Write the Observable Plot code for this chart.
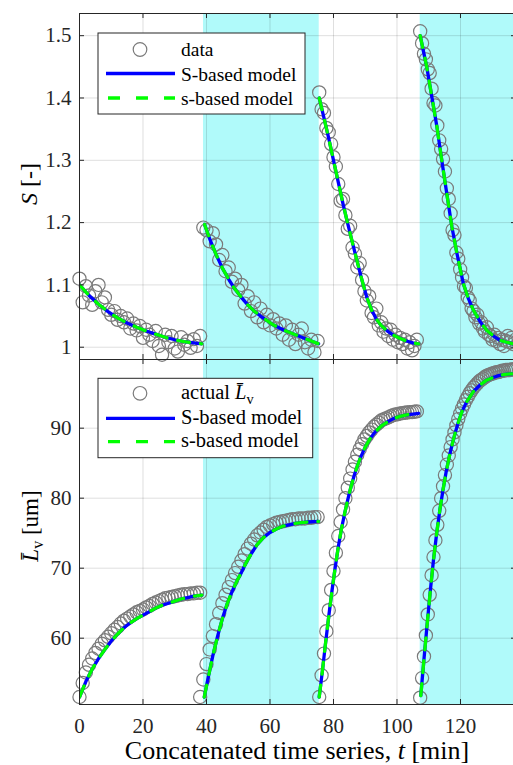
<!DOCTYPE html>
<html><head><meta charset="utf-8">
<script src="https://cdn.jsdelivr.net/npm/d3@7"></script>
<script src="https://cdn.jsdelivr.net/npm/@observablehq/plot@0.6"></script>
<style>
html,body{margin:0;padding:0;background:#fff;overflow:hidden}
#wrap{position:relative;width:513px;height:765px;overflow:hidden;background:#fff}
#wrap svg{position:absolute;left:0}
</style></head><body><div id="wrap"></div>
<script>
// ---------- axis ticks ----------
const xTicks = [0, 20, 40, 60, 80, 100, 120];
const xTickLabels = ["0", "20", "40", "60", "80", "100", "120"];
const sTicks = [1, 1.1, 1.2, 1.3, 1.4, 1.5];
const sTickLabels = ["1", "1.1", "1.2", "1.3", "1.4", "1.5"];
const lTicks = [60, 70, 80, 90];
const lTickLabels = ["60", "70", "80", "90"];

// ---------- shaded (cyan) time windows ----------
const shadeStart = [39.05, 107.3];
const shadeEnd = [75.5, 140];

// ---------- sampling grid of the measured series (start, step per segment) ----------
const sStart = [0, 39, 75.5, 107.3];
const lStart = [0, 38, 75.5, 107.3];
const sampleStep = [1, 1, 0.75, 0.6];

// ---------- measured supersaturation S ----------
const sData1 = [1.110,1.072,1.098,1.083,1.068,1.090,1.100,1.072,1.080,1.060,1.052,1.058,1.044,1.050,1.040,1.046,1.030,1.038,1.027,1.034,1.015,1.028,1.020,1.010,1.026,1.002,0.988,1.020,1.008,1.018,0.998,0.993,1.016,1.004,1.010,0.999,1.013,1.002,1.018];
const sData2 = [1.192,1.188,1.170,1.183,1.165,1.140,1.148,1.122,1.128,1.105,1.110,1.092,1.100,1.070,1.082,1.058,1.072,1.048,1.062,1.040,1.052,1.035,1.045,1.030,1.038,1.020,1.035,1.012,1.028,1.005,1.020,1.030,1.008,0.998,1.012,0.992,1.010];
const sData3 = [1.409,1.382,1.376,1.352,1.345,1.326,1.305,1.290,1.262,1.235,1.238,1.212,1.190,1.195,1.160,1.150,1.128,1.135,1.108,1.090,1.075,1.082,1.055,1.048,1.062,1.035,1.040,1.025,1.030,1.018,1.028,1.012,1.020,1.008,1.015,1.005,1.012,0.998,1.008,0.995,1.002,1.012];
const sData4 = [1.507,1.488,1.471,1.462,1.446,1.440,1.415,1.392,1.388,1.356,1.332,1.318,1.302,1.282,1.255,1.238,1.215,1.188,1.180,1.152,1.142,1.125,1.112,1.098,1.095,1.080,1.075,1.062,1.058,1.048,1.052,1.038,1.040,1.030,1.025,1.032,1.020,1.018,1.012,1.020,1.010,1.015,1.005,1.012,1.002,1.010,1.018,1.008,1.015,1.005,1.012];

// ---------- model curves for S ----------
const sModelT1 = [0,3,6,9,12,15,18,21,24,27,30,33,36,38.5];
const sModel1  = [1.100,1.083,1.069,1.057,1.047,1.039,1.032,1.026,1.021,1.016,1.012,1.009,1.007,1.0055];
const sModelT2 = [39.4,41,43,45,47,49,51,53,55,57,59,61,63,65,67,69,71,73,75.3];
const sModel2  = [1.197,1.174,1.149,1.127,1.109,1.093,1.080,1.068,1.058,1.050,1.043,1.036,1.031,1.026,1.022,1.018,1.014,1.010,1.0055];
const sModelT3 = [75.5,77,78.5,80,81.5,83,84.5,86,87.5,89,90.5,92,93.5,95,97,99,101,103,105,106.8];
const sModel3  = [1.400,1.368,1.335,1.300,1.265,1.230,1.198,1.167,1.137,1.107,1.080,1.060,1.045,1.035,1.026,1.019,1.014,1.010,1.007,1.0055];
const sModelT4 = [107.3,109.4,111.0,112.6,114.1,115.7,117.3,118.9,120.9,122.5,124.1,126.2,128.3,130.4,132.5,134.5,136.6,138];
const sModel4  = [1.500,1.449,1.401,1.353,1.300,1.246,1.193,1.150,1.102,1.078,1.059,1.041,1.027,1.018,1.011,1.008,1.0055,1.005];

// ---------- measured mean length L_v ----------
const lData1 = [51.6,53.6,55.1,56.2,57.1,57.9,58.5,59.2,59.7,60.2,60.7,61.2,61.6,62.1,62.5,62.8,63.1,63.4,63.7,63.9,64.1,64.4,64.6,64.9,65.1,65.3,65.5,65.7,65.8,65.9,66.0,66.1,66.2,66.3,66.3,66.4,66.4,66.5,66.5];
const lData2 = [51.6,54.1,56.3,58.4,60.3,62.0,63.6,65.0,66.2,67.3,68.3,69.3,70.2,71.1,72.0,72.8,73.5,74.1,74.7,75.1,75.5,75.9,76.1,76.3,76.5,76.6,76.7,76.8,76.9,77.0,77.0,77.1,77.1,77.1,77.2,77.2,77.3,77.3];
const lData3 = [51.6,54.7,57.8,61.0,64.0,66.9,69.6,72.2,74.6,76.6,78.4,80.0,81.5,82.8,84.1,85.2,86.2,87.0,87.7,88.4,88.9,89.4,89.8,90.2,90.5,90.8,91.1,91.25,91.4,91.55,91.7,91.85,91.95,92.0,92.1,92.15,92.2,92.25,92.3,92.3,92.35,92.4];
const lData4 = [51.5,54.3,57.4,60.4,63.4,66.2,69.0,71.6,74.0,76.2,78.2,80.0,81.7,83.3,84.8,86.1,87.3,88.4,89.4,90.4,91.3,92.1,92.8,93.4,94.0,94.5,95.0,95.4,95.8,96.1,96.4,96.7,96.9,97.1,97.3,97.5,97.6,97.7,97.8,97.9,98.0,98.0,98.1,98.2,98.2,98.3,98.3,98.3,98.4,98.4,98.4];

// ---------- model curves for L_v ----------
const lModelT1 = [0,2,4,6,8,10,12,14,16,18,20,22,24,26,28,30,32,34,36,38.5];
const lModel1  = [51.6,53.8,55.6,57.1,58.4,59.6,60.6,61.5,62.2,62.8,63.3,63.8,64.3,64.7,65.0,65.3,65.6,65.8,66.0,66.15];
const lModelT2 = [39.3,40.5,42,43.5,45,46.5,48,49.5,51,52.5,54,56,58,60,62,64,66,68,70,72,75.3];
const lModel2  = [51.6,54.3,57.5,60.3,62.8,64.9,66.6,68.1,69.4,70.8,72.0,73.4,74.4,75.1,75.6,76.0,76.2,76.4,76.5,76.6,76.7];
const lModelT3 = [75.5,76.5,77.5,78.5,79.5,80.5,81.5,82.5,83.5,84.5,85.5,86.5,87.5,88.5,90,91.5,93,95,97,99,101,103,105,106.8];
const lModel3  = [51.6,55.3,59.3,63.1,66.7,70.0,73.0,75.6,77.8,79.8,81.6,83.2,84.6,85.8,87.3,88.5,89.4,90.3,90.9,91.4,91.7,91.9,92.0,92.1];
const lModelT4 = [107.5,108.5,109.5,110.5,111.5,112.5,113.5,114.5,115.5,116.5,117.5,118.5,119.5,120.5,122,124,126,128,130,132,134,136.6,138];
const lModel4  = [51.8,57.0,62.0,66.8,71.2,75.0,78.3,81.2,83.8,86.0,87.9,89.6,91.1,92.4,93.8,95.2,96.1,96.8,97.2,97.5,97.7,97.8,97.9];

// ---------- styling / layout ----------
const FONT = "'Liberation Serif','DejaVu Serif',serif";
const AX = "#262626", GRAY = "#7a7a7a", BLUE = "#0000ff", GREEN = "#00ff00", CYAN = "#b0fafa";
const W = 516, ML = 79, TICK = 5;
const X_DOMAIN = [0, 137.64];

function samples(starts, step, arrays) {
  return arrays.flatMap((vals, i) => vals.map((v, j) => ({t: +(starts[i] + j * step[i]).toFixed(3), v, seg: i})));
}
function curves(ts, vs) {
  return ts.flatMap((tt, i) => tt.map((t, j) => ({t, v: vs[i][j], seg: i})));
}

function panel({height, mTop, mBottom, yDomain, yTicks, yLabels, data, model, xLabels}) {
  const pxY = (height - mTop - mBottom) / (yDomain[1] - yDomain[0]);
  const pxX = (W - ML) / (X_DOMAIN[1] - X_DOMAIN[0]);
  const ty = TICK / pxY, tx = TICK / pxX;
  const shades = shadeStart.map((s, i) => ({a: s, b: shadeEnd[i]}));
  const yl = yTicks.map((d, i) => ({v: d, s: yLabels[i]}));
  const marks = [
    Plot.rect(shades, {x1: "a", x2: "b", fill: CYAN, clip: true}),
    Plot.ruleX(xTicks, {stroke: "#000", strokeOpacity: 0.13}),
    Plot.ruleY(yTicks, {stroke: "#000", strokeOpacity: 0.13}),
    Plot.dot(data, {x: "t", y: "v", r: 6.6, stroke: GRAY, strokeWidth: 1.2, fill: "none"}),
    Plot.line(model, {x: "t", y: "v", z: "seg", stroke: BLUE, strokeWidth: 3.3, clip: true}),
    Plot.line(model, {x: "t", y: "v", z: "seg", stroke: GREEN, strokeWidth: 3.3, strokeDasharray: "12,11", clip: true}),
    Plot.frame({stroke: AX, strokeWidth: 1}),
    Plot.ruleX(xTicks, {y1: yDomain[0], y2: yDomain[0] + ty, stroke: AX}),
    Plot.ruleX(xTicks, {y1: yDomain[1] - ty, y2: yDomain[1], stroke: AX}),
    Plot.ruleY(yTicks, {x1: X_DOMAIN[0], x2: X_DOMAIN[0] + tx, stroke: AX}),
    Plot.ruleY(yTicks, {x1: X_DOMAIN[1] - tx, x2: X_DOMAIN[1], stroke: AX}),
    Plot.text(yl, {y: "v", text: "s", frameAnchor: "left", textAnchor: "end", dx: -8, fontSize: 21, fill: AX, fontFamily: FONT})
  ];
  if (xLabels) {
    const xl = xTicks.map((d, i) => ({v: d, s: xLabels[i]}));
    marks.push(Plot.text(xl, {x: "v", text: "s", frameAnchor: "bottom", lineAnchor: "top", dy: 14, fontSize: 21, fill: AX, fontFamily: FONT}));
  }
  return Plot.plot({
    width: W, height, marginLeft: ML, marginRight: 0, marginTop: mTop, marginBottom: mBottom,
    x: {domain: X_DOMAIN, axis: null},
    y: {domain: yDomain, axis: null},
    style: {background: "transparent", overflow: "visible", maxWidth: "none", fontFamily: FONT},
    marks
  });
}

const sPoints = samples(sStart, sampleStep, [sData1, sData2, sData3, sData4]);
const sCurves = curves([sModelT1, sModelT2, sModelT3, sModelT4], [sModel1, sModel2, sModel3, sModel4]);
const lPoints = samples(lStart, sampleStep, [lData1, lData2, lData3, lData4]);
const lCurves = curves([lModelT1, lModelT2, lModelT3, lModelT4], [lModel1, lModel2, lModel3, lModel4]);

const bottomPlot = panel({height: 407, mTop: 1, mBottom: 61, yDomain: [50.53, 99.81], yTicks: lTicks, yLabels: lTickLabels, data: lPoints, model: lCurves, xLabels: xTickLabels});
const topPlot = panel({height: 360, mTop: 13, mBottom: 1, yDomain: [0.9803, 1.5356], yTicks: sTicks, yLabels: sTickLabels, data: sPoints, model: sCurves, xLabels: null});

const wrap = document.getElementById("wrap");
bottomPlot.style.top = "358px";
topPlot.style.top = "0px";
wrap.appendChild(bottomPlot);
wrap.appendChild(topPlot);

function legend(svg, box, rows, size) {
  const g = d3.select(svg).append("g").attr("fill", "#000");
  g.append("rect").attr("x", box[0]).attr("y", box[1]).attr("width", box[2]).attr("height", box[3])
    .attr("fill", "#fff").attr("stroke", AX).attr("stroke-width", 1);
  rows.forEach(r => {
    if (r.type === "dot") {
      g.append("circle").attr("cx", 140).attr("cy", r.y).attr("r", 6.8).attr("fill", "none").attr("stroke", GRAY).attr("stroke-width", 1.2);
    } else {
      const ln = g.append("line").attr("x1", 106).attr("x2", 175).attr("y1", r.y).attr("y2", r.y)
        .attr("stroke", r.type === "solid" ? BLUE : GREEN).attr("stroke-width", 3.3);
      if (r.type === "dash") ln.attr("stroke-dasharray", "12,16").attr("stroke-dashoffset", -2);
    }
    const t = g.append("text").attr("x", 181).attr("y", r.ty).attr("text-anchor", "start")
      .style("font-family", FONT).style("font-size", size + "px");
    r.parts.forEach(p => {
      const ts = t.append("tspan").text(p.s);
      if (p.italic) ts.style("font-style", "italic");
      if (p.sub) ts.style("font-size", (size * 0.7) + "px").attr("dy", 5);
    });
  });
}

legend(topPlot, [98, 33, 207, 81], [
  {type: "dot", y: 49.5, ty: 55.5, parts: [{s: "data"}]},
  {type: "solid", y: 73.5, ty: 80.5, parts: [{s: "S-based model"}]},
  {type: "dash", y: 98, ty: 105, parts: [{s: "s-based model"}]}
], 19.5);

legend(bottomPlot, [98, 20.3, 214.7, 79.4], [
  {type: "dot", y: 35.3, ty: 41, parts: [{s: "actual "}, {s: "L\u0304", italic: true}, {s: "v", sub: true}]},
  {type: "solid", y: 60.3, ty: 65.5, parts: [{s: "S-based model"}]},
  {type: "dash", y: 83.7, ty: 88.5, parts: [{s: "s-based model"}]}
], 20.5);

// y-axis titles
const yt = d3.select(topPlot).append("text").attr("fill", "#000").style("font-family", FONT).style("font-size", "24px")
  .attr("text-anchor", "middle").attr("transform", "translate(37,184) rotate(-90)");
yt.append("tspan").style("font-style", "italic").text("S");
yt.append("tspan").text(" [-]");

const yb = d3.select(bottomPlot).append("text").attr("fill", "#000").style("font-family", FONT).style("font-size", "23px")
  .attr("text-anchor", "middle").attr("transform", "translate(38,168) rotate(-90)");
yb.append("tspan").style("font-style", "italic").text("L\u0304");
yb.append("tspan").style("font-size", "16px").attr("dy", 5).text("v");
yb.append("tspan").attr("dy", -5).text(" [um]");

// x-axis title
const xt = d3.select(bottomPlot).append("text").attr("fill", "#000").style("font-family", FONT).style("font-size", "26px")
  .attr("text-anchor", "middle").attr("x", 297).attr("y", 401);
xt.append("tspan").text("Concatenated time series, ");
xt.append("tspan").style("font-style", "italic").text("t");
xt.append("tspan").text(" [min]");
</script></body></html>
